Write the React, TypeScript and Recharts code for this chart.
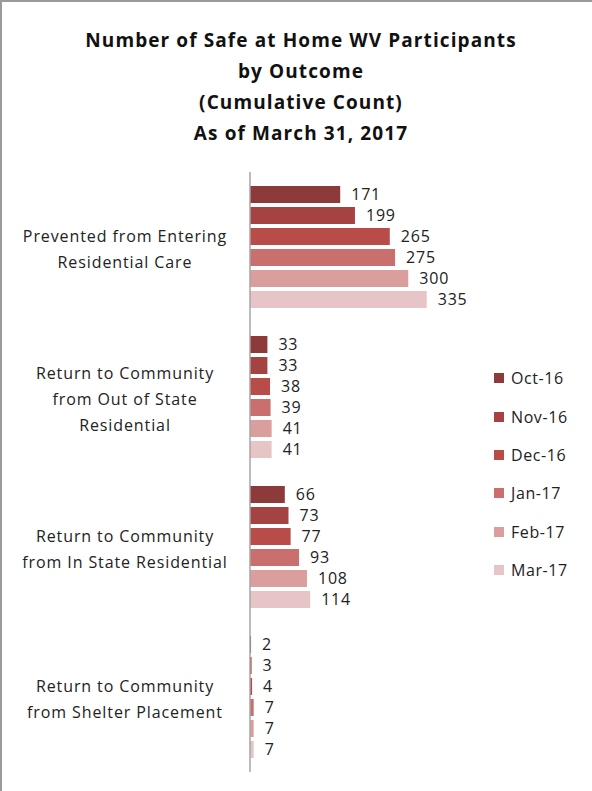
import { BarChart, Bar, XAxis, YAxis, LabelList } from "recharts";

const categories = [
  "Prevented from Entering\nResidential Care",
  "Return to Community\nfrom Out of State\nResidential",
  "Return to Community\nfrom In State Residential",
  "Return to Community\nfrom Shelter Placement",
];

const months = ["Oct-16", "Nov-16", "Dec-16", "Jan-17", "Feb-17", "Mar-17"];
const colors = ["#8c3a3a", "#a44342", "#b74c48", "#c9706e", "#da9e9d", "#e7c4c5"];

const prevented = [171, 199, 265, 275, 300, 335];
const outOfState = [33, 33, 38, 39, 41, 41];
const inState = [66, 73, 77, 93, 108, 114];
const shelter = [2, 3, 4, 7, 7, 7];

const rows = [prevented, outOfState, inState, shelter];
const data = categories.map((name, i) => {
  const row: Record<string, string | number> = { name };
  months.forEach((m, j) => {
    row[m] = rows[i][j];
  });
  return row;
});

const font = "'Open Sans', Lato, sans-serif";

function CategoryTick(props: any) {
  const { x, y, payload } = props;
  const lines: string[] = String(payload.value).split("\n");
  const lh = 26;
  const start = y - ((lines.length - 1) * lh) / 2 + 2;
  return (
    <text
      x={x - 117}
      textAnchor="middle"
      fill="#222"
      fontSize={16}
      fontFamily={font}
      letterSpacing={0.9}
    >
      {lines.map((l, i) => (
        <tspan key={i} x={x - 117} y={start + i * lh} dy="0.35em">
          {l}
        </tspan>
      ))}
    </text>
  );
}

export default function App() {
  return (
    <div
      style={{
        position: "absolute",
        left: 0,
        top: 0,
        width: 590,
        height: 789,
        borderLeft: "2px solid #9a9a9a",
        borderTop: "2px solid #9a9a9a",
        background: "#fff",
      }}
    >
      <div
        style={{
          position: "absolute",
          left: 0,
          top: 23,
          width: 598,
          textAlign: "center",
          fontFamily: font,
          fontWeight: "bold",
          fontSize: 19,
          letterSpacing: 1.1,
          lineHeight: "31px",
          color: "#111",
        }}
      >
        <div>Number of Safe at Home WV Participants</div>
        <div>by Outcome</div>
        <div>(Cumulative Count)</div>
        <div>As of March 31, 2017</div>
      </div>
      <div style={{ position: "absolute", left: -2, top: -2 }}>
        <BarChart
          width={592}
          height={791}
          data={data}
          layout="vertical"
          margin={{ top: 172, right: 131, bottom: 19, left: 0 }}
          barCategoryGap={14}
          barGap={4}
        >
          <XAxis type="number" domain={[0, 400]} hide />
          <YAxis
            type="category"
            dataKey="name"
            width={250}
            tickLine={false}
            axisLine={{ stroke: "#a6a6a6", strokeWidth: 1.5 }}
            tick={<CategoryTick />}
            interval={0}
          />
          {months.map((m, i) => (
            <Bar key={m} dataKey={m} fill={colors[i]} isAnimationActive={false}>
              <LabelList
                dataKey={m}
                position="right"
                offset={11}
                fill="#222"
                fontSize={16}
                fontFamily={font}
                letterSpacing={0.8}
              />
            </Bar>
          ))}
        </BarChart>
      </div>
      <div
        style={{
          position: "absolute",
          left: 492,
          top: 357,
          fontFamily: font,
          fontSize: 16,
          letterSpacing: 0.6,
          color: "#222",
        }}
      >
        {months.map((m, i) => (
          <div key={m} style={{ display: "flex", alignItems: "center", height: 38.4 }}>
            <span style={{ width: 10, height: 10, background: colors[i], marginRight: 7 }} />
            <span>{m}</span>
          </div>
        ))}
      </div>
    </div>
  );
}
